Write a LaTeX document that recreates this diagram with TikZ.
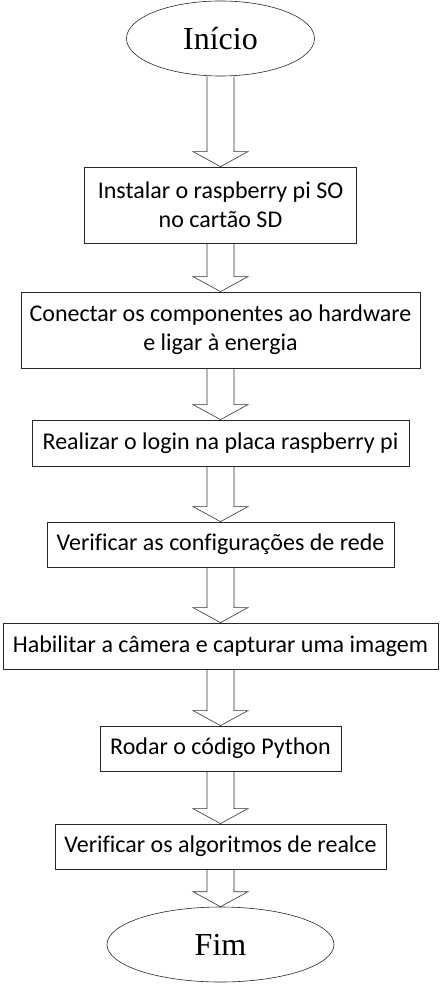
\documentclass[tikz,border=0pt]{standalone}
\usepackage{fontspec}
\setmainfont{Carlito}[Ligatures=NoCommon]
\newfontfamily\titlefont{Liberation Serif}
\usetikzlibrary{shapes.geometric}

\tikzset{
  etapa/.style={draw=black!85,line width=0.8pt,rectangle,inner sep=0pt,align=center,
    font=\fontsize{24}{29}\selectfont},
  terminal/.style={draw=black!85,line width=0.6pt,ellipse,inner sep=0pt,
    font=\titlefont\fontsize{32}{36}\selectfont},
  blockarrow/.style={draw=black!80,line width=0.6pt,line join=miter,
    to path={([xshift=-13.5pt]\tikztostart.south) -- ([xshift=-13.5pt,yshift=15pt]\tikztotarget.north)
      -- ([xshift=-27.5pt,yshift=15pt]\tikztotarget.north) -- (\tikztotarget.north)
      -- ([xshift=27.5pt,yshift=15pt]\tikztotarget.north) -- ([xshift=13.5pt,yshift=15pt]\tikztotarget.north)
      -- ([xshift=13.5pt]\tikztostart.south)}}
}

\begin{document}
\begin{tikzpicture}[x=1pt,y=-1pt]
  \useasboundingbox (0,0) rectangle (441,984);
  \node[terminal,minimum width=188pt,minimum height=75pt] (inicio) at (220.5,38.5) {Início};
  \node[etapa,minimum width=272pt,minimum height=76pt] (instalar) at (220.5,205) {Instalar o raspberry pi SO\\no cartão SD};
  \node[etapa,minimum width=399pt,minimum height=76pt] (conectar) at (220.5,330) {Conectar os componentes ao hardware\\e ligar à energia};
  \node[etapa,minimum width=377pt,minimum height=46pt] (login) at (220.5,443) {Realizar o login na placa raspberry pi};
  \node[etapa,minimum width=347pt,minimum height=45pt] (rede) at (220.5,544.5) {Verificar as configurações de rede};
  \node[etapa,minimum width=435pt,minimum height=46pt] (camera) at (220.5,646) {Habilitar a câmera e capturar uma imagem};
  \node[etapa,minimum width=241pt,minimum height=45pt] (python) at (220.5,748.5) {Rodar o código Python};
  \node[etapa,minimum width=331pt,minimum height=45pt] (realce) at (220.5,846.5) {Verificar os algoritmos de realce};
  \node[terminal,minimum width=227pt,minimum height=75pt] (fim) at (220.5,944.5) {Fim};
  \draw[blockarrow] (inicio) to (instalar);
  \draw[blockarrow] (instalar) to (conectar);
  \draw[blockarrow] (conectar) to (login);
  \draw[blockarrow] (login) to (rede);
  \draw[blockarrow] (rede) to (camera);
  \draw[blockarrow] (camera) to (python);
  \draw[blockarrow] (python) to (realce);
  \draw[blockarrow] (realce) to (fim);
\end{tikzpicture}
\end{document}
